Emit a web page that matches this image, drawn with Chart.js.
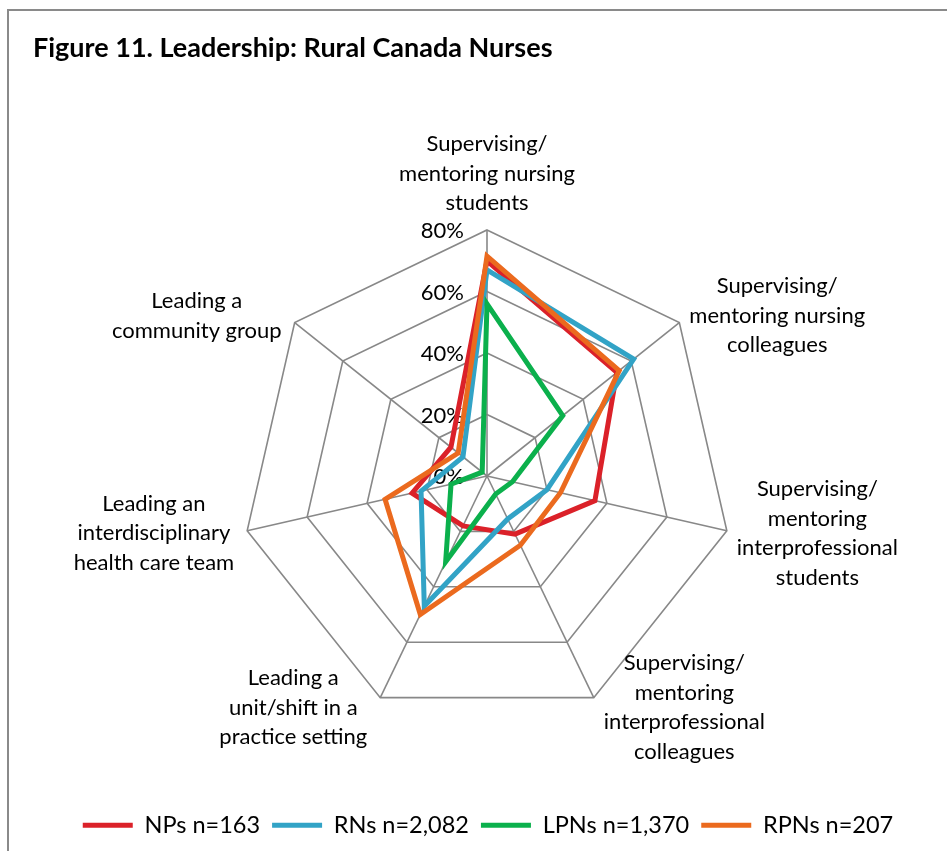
<!DOCTYPE html>
<html>
<head>
<meta charset="utf-8">
<script src="https://cdn.jsdelivr.net/npm/chart.js@4.4.1/dist/chart.umd.min.js"></script>
<style>
  body { margin: 0; background: #fff; }
  .frame {
    position: absolute; left: 7px; top: 9px;
    width: 980px; height: 900px;
    border: 2px solid #8a8a8a;
  }
  #chart { position: absolute; left: 0; top: 0; }
</style>
</head>
<body>
<div class="frame"></div>
<canvas id="chart" width="947" height="851"></canvas>
<script>
  const categories = [
    ["Supervising/", "mentoring nursing", "students"],
    ["Supervising/", "mentoring nursing", "colleagues"],
    ["Supervising/", "mentoring", "interprofessional", "students"],
    ["Supervising/", "mentoring", "interprofessional", "colleagues"],
    ["Leading a", "unit/shift in a", "practice setting"],
    ["Leading an", "interdisciplinary", "health care team"],
    ["Leading a", "community group"]
  ];

  const seriesNames = ["NPs n=163", "RNs n=2,082", "LPNs n=1,370", "RPNs n=207"];
  const nps  = [70, 54, 36, 21, 18, 25, 15];
  const rns  = [67, 61, 20, 15.5, 47, 22, 10];
  const lpns = [56, 31.5, 8.5, 6.5, 31, 12, 2];
  const rpns = [71.5, 55, 24.5, 25, 50, 34, 12];
  const tickValues = [0, 20, 40, 60, 80];

  const colors = ["#db2129", "#32a3c6", "#0bb04c", "#eb6a1e"];
  const FONT = "Lato, 'Open Sans', sans-serif";
  const LABEL_SIZE = 22;
  const LINE_H = 29.5;

  // draws the percent ticks left of the vertical axis and the category labels Excel-style
  const axisText = {
    id: 'axisText',
    beforeDatasetsDraw(chart) {
      const r = chart.scales.r;
      const ctx = chart.ctx;
      ctx.save();
      ctx.fillStyle = '#000';
      ctx.font = LABEL_SIZE + 'px ' + FONT;
      ctx.textAlign = 'right';
      ctx.textBaseline = 'middle';
      tickValues.forEach(v => {
        const d = r.getDistanceFromCenterForValue(v);
        ctx.fillText(v + '%', r.xCenter - 23, r.yCenter - d + 1);
      });

      ctx.textAlign = 'center';
      categories.forEach((lines, i) => {
        const p = r.getPointPosition(i, r.drawingArea);
        const w = Math.max(...lines.map(l => ctx.measureText(l).width));
        const h = lines.length * LINE_H;
        const ang = i * 2 * Math.PI / categories.length;
        let cx, top;
        if (i === 0) {
          cx = p.x;
          top = p.y - 12 - h;
        } else if (p.x > r.xCenter) {
          cx = p.x + 10 + w / 2;
          top = p.y - 11 * Math.cos(ang) - h / 2;
        } else {
          cx = p.x - 13 - w / 2;
          top = p.y - 11 * Math.cos(ang) - h / 2;
        }
        lines.forEach((l, j) => ctx.fillText(l, cx, top + LINE_H * (j + 0.5)));
      });
      ctx.restore();
    }
  };

  const allData = [nps, rns, lpns, rpns];
  new Chart(document.getElementById('chart'), {
    type: 'radar',
    data: {
      labels: categories,
      datasets: allData.map((d, i) => ({
        label: seriesNames[i],
        data: d,
        borderColor: colors[i],
        backgroundColor: colors[i],
        borderWidth: 5,
        borderCapStyle: 'round',
        borderJoinStyle: 'miter',
        fill: false,
        pointRadius: 0,
        pointHoverRadius: 0,
        order: allData.length - i
      }))
    },
    options: {
      responsive: false,
      animation: false,
      devicePixelRatio: 1,
      layout: { padding: { top: 32, left: 33, right: 4, bottom: 4 } },
      plugins: {
        title: {
          display: true,
          text: 'Figure 11. Leadership: Rural Canada Nurses',
          align: 'start',
          color: '#000',
          font: { family: FONT, size: 27, weight: 'bold' },
          padding: { top: 0, bottom: 0 }
        },
        legend: {
          position: 'bottom',
          labels: {
            usePointStyle: true,
            pointStyle: 'line',
            pointStyleWidth: 50,
            boxWidth: 50,
            padding: 12,
            color: '#000',
            font: { family: FONT, size: 23.5 },
            sort: (a, b) => a.datasetIndex - b.datasetIndex
          }
        },
        tooltip: { enabled: false }
      },
      scales: {
        r: {
          min: 0,
          max: 80,
          ticks: { display: false, stepSize: 20 },
          pointLabels: { display: false },
          grid: { color: '#888', lineWidth: 1.6, circular: false },
          angleLines: { color: '#888', lineWidth: 1.6 },
          afterFit: (scale) => {
            scale.xCenter = 487;
            scale.yCenter = 476;
            scale.drawingArea = 246;
          }
        }
      }
    },
    plugins: [axisText]
  });
</script>
</body>
</html>
